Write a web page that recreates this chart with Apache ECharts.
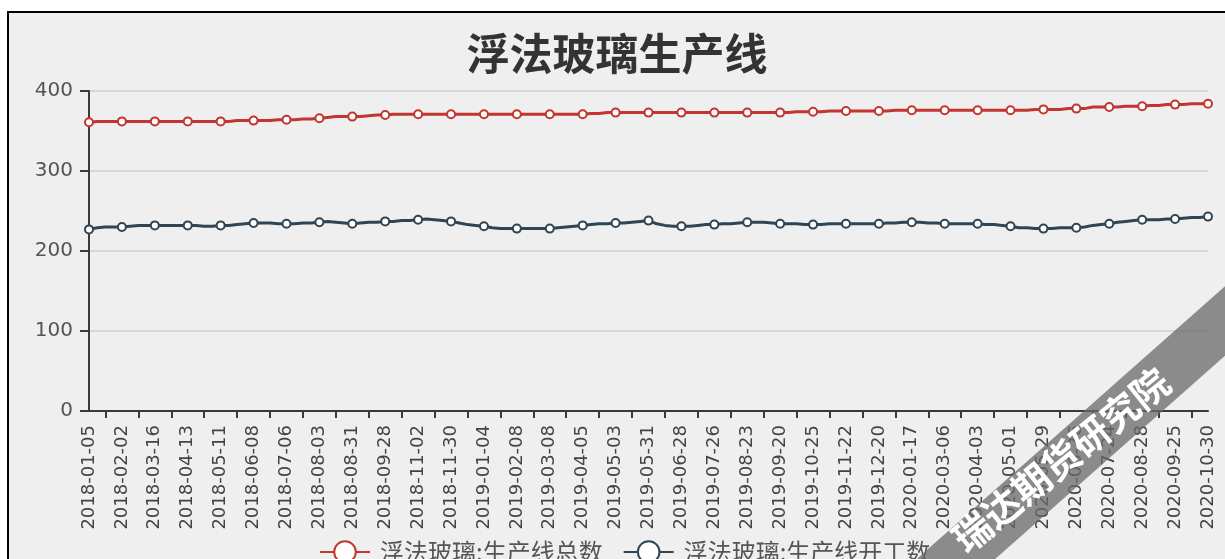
<!DOCTYPE html>
<html>
<head>
<meta charset="utf-8">
<script src="https://cdn.jsdelivr.net/npm/echarts@6/dist/echarts.min.js"></script>
<style>
html,body{margin:0;padding:0;background:#fff;width:1225px;height:559px;overflow:hidden;}
#frame{position:absolute;left:7px;top:11px;width:1220px;height:550px;border-left:2px solid #000;border-top:2px solid #000;background:#efefef;}
#chart{position:absolute;left:0;top:0;width:1216px;height:546px;}
</style>
</head>
<body>
<div id="frame"><div id="chart"></div></div>
<script>
const titleText = '浮法玻璃生产线';
const seriesNames = ['浮法玻璃:生产线总数', '浮法玻璃:生产线开工数'];
const yTicks = [0, 100, 200, 300, 400];
const dates = [
'2018-01-05','2018-01-12','2018-01-19','2018-01-26',
'2018-02-02','2018-02-09','2018-03-02','2018-03-09',
'2018-03-16','2018-03-23','2018-03-30','2018-04-06',
'2018-04-13','2018-04-20','2018-04-27','2018-05-04',
'2018-05-11','2018-05-18','2018-05-25','2018-06-01',
'2018-06-08','2018-06-15','2018-06-22','2018-06-29',
'2018-07-06','2018-07-13','2018-07-20','2018-07-27',
'2018-08-03','2018-08-10','2018-08-17','2018-08-24',
'2018-08-31','2018-09-07','2018-09-14','2018-09-21',
'2018-09-28','2018-10-12','2018-10-19','2018-10-26',
'2018-11-02','2018-11-09','2018-11-16','2018-11-23',
'2018-11-30','2018-12-07','2018-12-14','2018-12-21',
'2019-01-04','2019-01-11','2019-01-18','2019-01-25',
'2019-02-08','2019-02-15','2019-02-22','2019-03-01',
'2019-03-08','2019-03-15','2019-03-22','2019-03-29',
'2019-04-05','2019-04-12','2019-04-19','2019-04-26',
'2019-05-03','2019-05-10','2019-05-17','2019-05-24',
'2019-05-31','2019-06-07','2019-06-14','2019-06-21',
'2019-06-28','2019-07-05','2019-07-12','2019-07-19',
'2019-07-26','2019-08-02','2019-08-09','2019-08-16',
'2019-08-23','2019-08-30','2019-09-06','2019-09-13',
'2019-09-20','2019-09-27','2019-10-11','2019-10-18',
'2019-10-25','2019-11-01','2019-11-08','2019-11-15',
'2019-11-22','2019-11-29','2019-12-06','2019-12-13',
'2019-12-20','2019-12-27','2020-01-03','2020-01-10',
'2020-01-17','2020-02-14','2020-02-21','2020-02-28',
'2020-03-06','2020-03-13','2020-03-20','2020-03-27',
'2020-04-03','2020-04-10','2020-04-17','2020-04-24',
'2020-05-01','2020-05-08','2020-05-15','2020-05-22',
'2020-05-29','2020-06-05','2020-06-12','2020-06-19',
'2020-06-26','2020-07-03','2020-07-10','2020-07-17',
'2020-07-24','2020-07-31','2020-08-07','2020-08-14',
'2020-08-28','2020-09-04','2020-09-11','2020-09-18',
'2020-09-25','2020-10-09','2020-10-16','2020-10-23',
'2020-10-30'];
const totalLines = [
361,362,362,362, 362,362,362,362, 362,362,362,362, 362,362,362,362,
362,362,363,363, 363,363,363,364, 364,364,365,365, 366,367,368,368,
368,368,369,370, 370,371,371,371, 371,371,371,371, 371,371,371,371,
371,371,371,371, 371,371,371,371, 371,371,371,371, 371,372,372,373,
373,373,373,373, 373,373,373,373, 373,373,373,373, 373,373,373,373,
373,373,373,373, 373,373,374,374, 374,374,375,375, 375,375,375,375,
375,375,376,376, 376,376,376,376, 376,376,376,376, 376,376,376,376,
376,376,376,377, 377,377,377,378, 378,378,380,380, 380,380,381,381,
381,382,382,383, 383,383,384,384, 384];
const runningLines = [
227,229,230,230, 230,231,232,232, 232,232,232,232, 232,232,231,231,
232,232,233,234, 235,235,235,234, 234,234,235,235, 236,237,236,235,
234,235,236,236, 237,237,238,238, 239,240,239,238, 237,235,233,232,
231,229,228,228, 228,228,228,228, 228,229,230,231, 232,233,234,234,
235,235,236,237, 238,234,232,231, 231,231,232,233, 233,234,234,235,
236,236,236,235, 234,234,234,233, 233,233,234,234, 234,234,234,234,
234,235,235,236, 236,236,235,235, 234,234,234,234, 234,233,233,232,
231,229,229,228, 228,228,229,229, 229,230,232,233, 234,236,237,238,
239,239,239,240, 240,241,242,242, 243];
const colors = ['#c23531', '#2f4554'];

const chart = echarts.init(document.getElementById('chart'), null, {renderer: 'canvas'});
const labelFont = "'DejaVu Sans', sans-serif";
const cjkFont = "'Noto Sans CJK SC', sans-serif";
const option = {
  animation: false,
  color: colors,
  title: {
    text: titleText,
    left: 'center',
    top: 19,
    padding: 0,
    textStyle: {fontSize: 43, fontWeight: 'bold', color: '#333', fontFamily: cjkFont}
  },
  legend: {
    data: seriesNames,
    left: 305,
    top: 522,
    itemWidth: 50,
    itemHeight: 27,
    itemGap: 20,
    textStyle: {fontSize: 24, color: '#555', fontFamily: cjkFont, padding: [0, 0, 0, 5]}
  },
  grid: {left: 80, right: 17, top: 78, bottom: 148, containLabel: false},
  xAxis: {
    type: 'category',
    data: dates,
    boundaryGap: false,
    axisLine: {lineStyle: {color: '#3a3a3a', width: 2}},
    axisTick: {show: true, length: 7, interval: function (idx) { return idx % 4 === 2; }, lineStyle: {color: '#3a3a3a', width: 2}},
    axisLabel: {interval: 3, rotate: 90, margin: 14, fontSize: 18, color: '#444', fontFamily: labelFont},
    splitLine: {show: false}
  },
  yAxis: {
    type: 'value',
    min: yTicks[0],
    max: yTicks[yTicks.length - 1],
    interval: 100,
    axisLine: {show: true, lineStyle: {color: '#3a3a3a', width: 2}},
    axisTick: {show: true, length: 9, lineStyle: {color: '#3a3a3a', width: 2}},
    axisLabel: {fontSize: 20, color: '#555', margin: 16, fontFamily: labelFont},
    splitLine: {lineStyle: {color: '#cfcfcf', width: 1.5}}
  },
  series: [
    {
      name: seriesNames[0], type: 'line', data: totalLines,
      symbol: 'emptyCircle', symbolSize: 8, showAllSymbol: 'auto',
      lineStyle: {width: 3, color: colors[0]},
      itemStyle: {color: colors[0], borderColor: colors[0], borderWidth: 2}
    },
    {
      name: seriesNames[1], type: 'line', data: runningLines,
      symbol: 'emptyCircle', symbolSize: 8, showAllSymbol: 'auto',
      lineStyle: {width: 3, color: colors[1]},
      itemStyle: {color: colors[1], borderColor: colors[1], borderWidth: 2}
    }
  ],
  graphic: [
    {
      type: 'rect',
      x: 1060, y: 446,
      rotation: 41.5 * Math.PI / 180,
      z: 100,
      silent: true,
      shape: {x: -420, y: -26, width: 840, height: 52},
      style: {fill: 'rgba(105,105,105,0.75)'}
    },
    {
      type: 'text',
      x: 1052, y: 447,
      rotation: 39 * Math.PI / 180,
      z: 101,
      silent: true,
      style: {text: '瑞达期货研究院', fill: '#ffffff', font: "bold 38px 'Noto Sans CJK SC'", align: 'center', verticalAlign: 'middle'}
    }
  ]
};
chart.setOption(option);
</script>
</body>
</html>
